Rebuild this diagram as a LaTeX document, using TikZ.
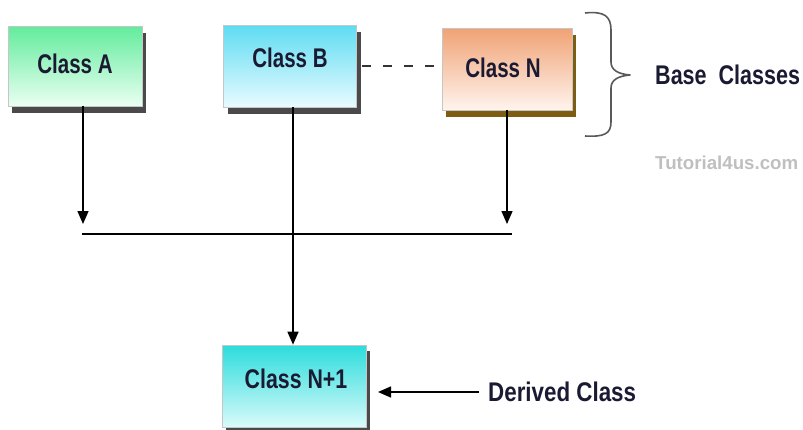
\documentclass[tikz,border=0pt]{standalone}
\usepackage{fontspec}
\usepackage{graphicx}
\newfontfamily\lbl[FakeStretch=0.76]{Liberation Sans}
\newfontfamily\wmk{Liberation Sans}
\usetikzlibrary{arrows.meta,shadows}
\definecolor{txt}{HTML}{1A1A33}
\definecolor{aTop}{HTML}{62EC9C}
\definecolor{aBot}{HTML}{EAFFF2}
\definecolor{bTop}{HTML}{5EDCF2}
\definecolor{bBot}{HTML}{E8FBFF}
\definecolor{nTop}{HTML}{F0A274}
\definecolor{nBot}{HTML}{FFF4EE}
\definecolor{mTop}{HTML}{2CDCDC}
\definecolor{mBot}{HTML}{DAFAFA}
\definecolor{shGray}{HTML}{4A4A4A}
\definecolor{shBrown}{HTML}{7E5C12}
\tikzset{
  classbox/.style={draw=gray!45, line width=0.6pt, inner sep=0pt},
  lbltext/.style={font=\lbl\bfseries\fontsize{27}{30}\selectfont, text=txt, inner sep=0pt},
  conn/.style={line width=1.5pt, -{Triangle[width=11pt,length=13pt]}},
  plain/.style={line width=1.5pt},
}
\begin{document}
\begin{tikzpicture}[x=1pt,y=-1pt]
\useasboundingbox (0,0) rectangle (803,429);
% boxes
\node[classbox, minimum width=134pt, minimum height=80pt, top color=aTop, bottom color=aBot,
  drop shadow={shadow xshift=4pt, shadow yshift=-7pt, fill=shGray, opacity=1}] (A) at (75,66) {};
\node[classbox, minimum width=133pt, minimum height=82pt, top color=bTop, bottom color=bBot,
  drop shadow={shadow xshift=4.5pt, shadow yshift=-7pt, fill=shGray, opacity=1}] (B) at (289.5,66) {};
\node[classbox, minimum width=130pt, minimum height=82pt, top color=nTop, bottom color=nBot,
  drop shadow={shadow xshift=3.5pt, shadow yshift=-6.5pt, fill=shBrown, opacity=1}] (N) at (507,69) {};
\node[classbox, minimum width=144pt, minimum height=82pt, top color=mTop, bottom color=mBot,
  drop shadow={shadow xshift=3.5pt, shadow yshift=-6pt, fill=shGray, opacity=1}] (M) at (294,386) {};
% texts
\node[lbltext] (Atxt) at (75,64) {Class A};
\node[lbltext] (Btxt) at (290,58) {Class B};
\node[lbltext] (Ntxt) at (503,68) {Class N};
\node[lbltext] (Mtxt) at (296,379) {\scalebox{1.04}[1]{Class N+1}};
\node[lbltext, anchor=west] (base) at (655,75) {\scalebox{1.05}[1]{Base\ \ Classes}};
\node[lbltext, anchor=west] (D) at (488,392) {\scalebox{1.09}[1]{Derived Class}};
\node[font=\wmk\bfseries\fontsize{18.7}{20}\selectfont, text=gray!50, anchor=west, inner sep=0pt] (wm) at (655,163) {Tutorial4us.com};
% coordinates
\coordinate (aT) at (83,224);
\coordinate (nT) at (507,224);
\coordinate (jL) at (82,234);
\coordinate (jR) at (512,234);
\coordinate (bx) at (293,0);
\coordinate (dT) at (378,392);
\coordinate (dsh) at (0,66);
% connectors
\draw[conn] (A.south -| aT) -- (aT);
\draw[conn] (N.south -| nT) -- (nT);
\draw[plain] (jL) -- (jR);
\draw[conn] (B.south -| bx) -- (M.north -| bx);
\draw[line width=2.2pt, draw=black!80, dash pattern=on 9pt off 12pt] ([xshift=6pt]B.east |- dsh) -- ([xshift=-6pt]N.west |- dsh);
\draw[conn] ([xshift=-9pt]D.west) -- (dT);
% brace
\draw[line width=1.6pt, draw=gray!70!black, line join=round]
  (585,13) .. controls (604,11) and (611,16) .. (611,30) -- (611,62)
  .. controls (611,70) and (618,74) .. (630,75)
  .. controls (618,76) and (611,80) .. (611,88) -- (611,122)
  .. controls (611,134) and (604,137) .. (585,136);
\end{tikzpicture}
\end{document}
